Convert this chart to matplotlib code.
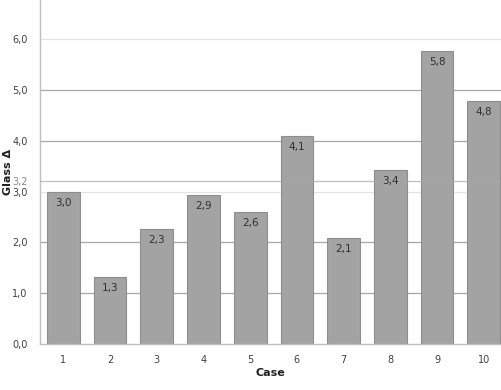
import matplotlib.pyplot as plt

cases = ['1', '2', '3', '4', '5', '6', '7', '8', '9', '10']
values = [3.0, 1.3, 2.3, 2.9, 2.6, 4.1, 2.1, 3.4, 5.8, 4.8]
heights = [2.99, 1.32, 2.26, 2.93, 2.60, 4.09, 2.09, 3.42, 5.77, 4.78]
yticks = [0, 1, 2, 3, 4, 5, 6]
dark_grid = [1, 2, 4, 5]
light_grid = [3, 6]
marker = 3.2

fig = plt.figure(figsize=(5.01, 3.90), dpi=100)
ax = fig.add_axes([0.08, 0.118, 0.92, 0.882])

x = list(range(1, len(cases) + 1))

for g in dark_grid:
    ax.axhline(g, color='#a6a6a6', lw=0.9, zorder=1)
for g in light_grid:
    ax.axhline(g, color='#e3e3e3', lw=0.9, zorder=1)

ax.bar(x, heights, width=0.7, color='#a3a3a3', edgecolor='#8e8e8e',
       linewidth=0.8, zorder=2)
ax.axhline(marker, color='#a6a6a6', lw=0.9, alpha=0.7, zorder=3)

for xi, h, v in zip(x, heights, values):
    ax.annotate(f'{v:.1f}'.replace('.', ','), (xi, h), xytext=(0, -8),
                textcoords='offset points', ha='center', va='center',
                fontsize=7.5, color='#303030', zorder=4)

ax.set_xlim(0.5, 10.37)
ax.set_ylim(0, 6.77)
ax.set_xticks(x)
ax.set_xticklabels(cases)
ticks = yticks + [marker]
ax.set_yticks(ticks)
ax.set_yticklabels([f'{t:.1f}'.replace('.', ',') for t in ticks])
ax.tick_params(length=0, labelsize=7, colors='#404040')
ax.tick_params(axis='x', pad=8)
ax.tick_params(axis='y', pad=9)
ax.get_yticklabels()[-1].set_color('#8a8a8a')

for side in ['top', 'right']:
    ax.spines[side].set_visible(False)
for side in ['left', 'bottom']:
    ax.spines[side].set_color('#bfbfbf')
    ax.spines[side].set_linewidth(1.0)

ax.set_xlabel('Case', fontsize=8, fontweight='bold', color='#202020', labelpad=2)
ax.set_ylabel('Glass Δ', fontsize=8, fontweight='bold', color='#202020')
ax.yaxis.set_label_coords(-0.058, 0.5)

fig.savefig('out.png', dpi=100)
